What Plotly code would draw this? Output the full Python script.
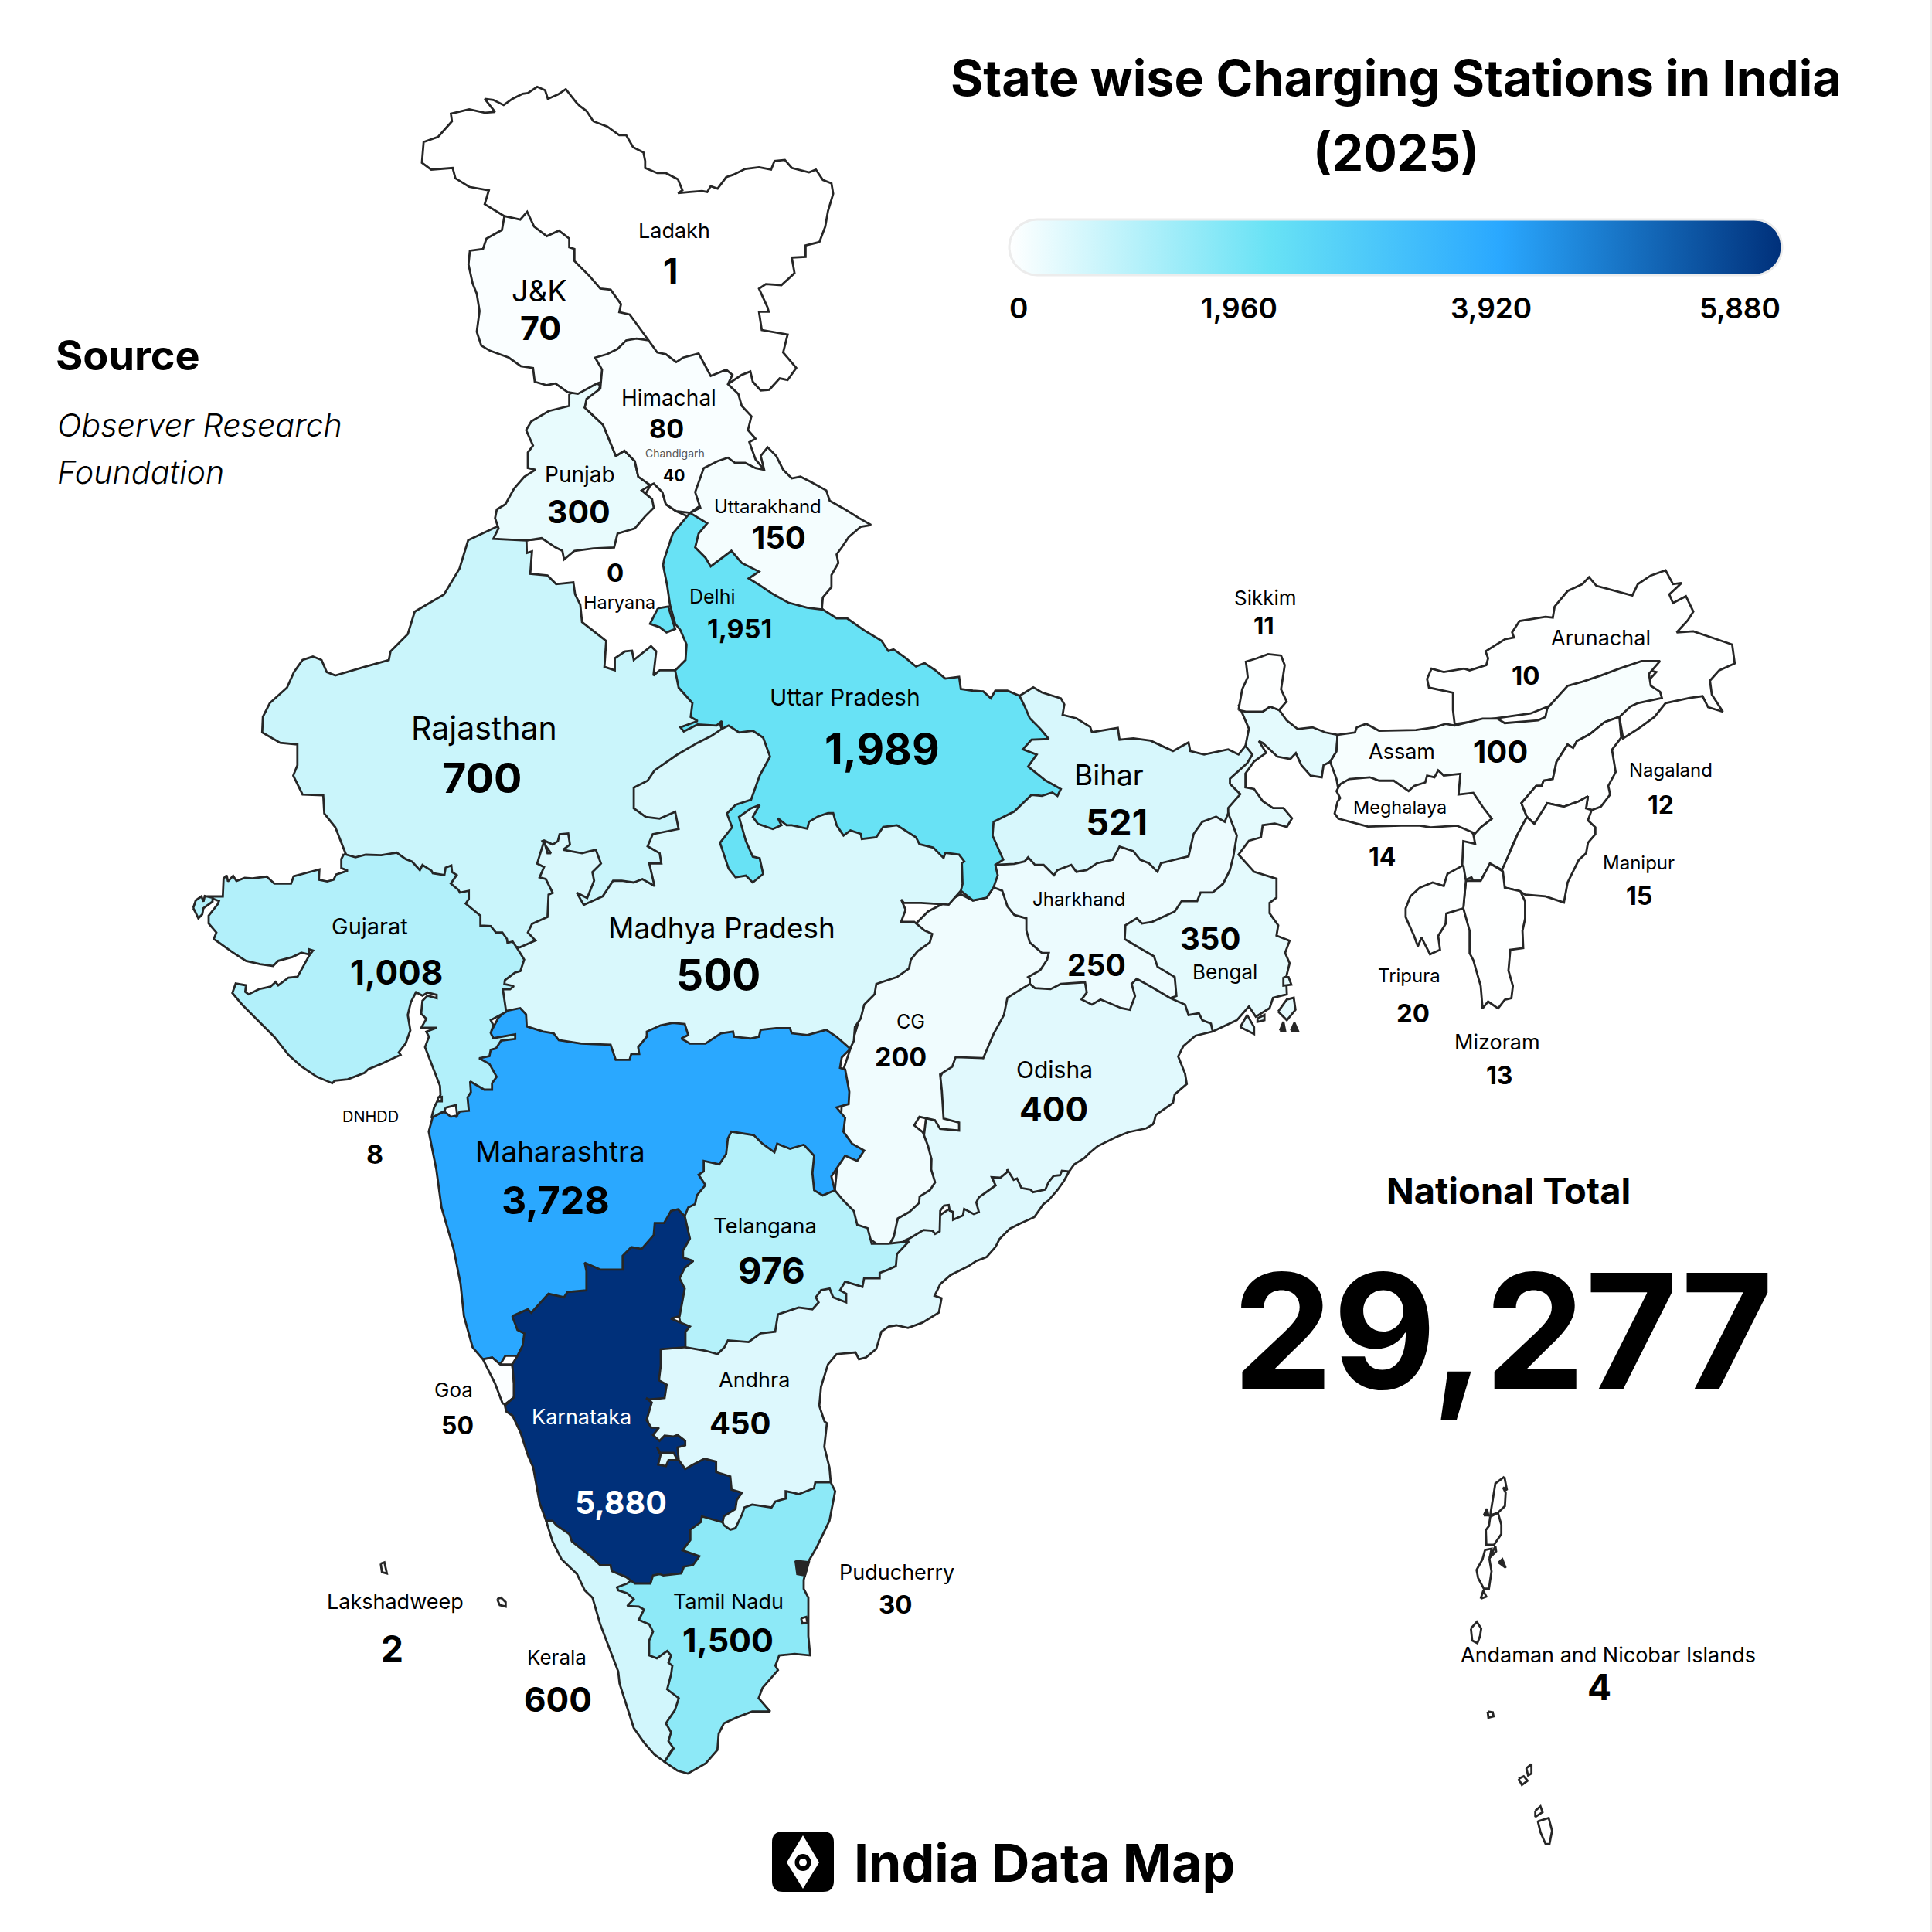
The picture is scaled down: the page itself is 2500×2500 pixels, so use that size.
import numpy as np
import plotly.graph_objects as go
from plotly.colors import sample_colorscale

# charging stations per state, as printed on the map
state_names = ["Ladakh", "J&K", "Himachal", "Chandigarh", "Punjab", "Uttarakhand", "Haryana", "Delhi",
               "Uttar Pradesh", "Rajasthan", "Bihar", "Jharkhand", "Bengal", "Madhya Pradesh", "Gujarat",
               "CG", "Odisha", "Maharashtra", "Telangana", "Andhra", "Goa", "Karnataka", "Tamil Nadu",
               "Kerala", "Puducherry", "Lakshadweep", "DNHDD", "Sikkim", "Arunachal", "Assam", "Meghalaya",
               "Nagaland", "Manipur", "Tripura", "Mizoram", "Andaman and Nicobar Islands"]
state_values = [1, 70, 80, 40, 300, 150, 0, 1951, 1989, 700, 521, 250, 350, 500, 1008, 200, 400, 3728, 976,
                450, 50, 5880, 1500, 600, 30, 2, 8, 11, 10, 100, 14, 12, 15, 20, 13, 4]

# label centres, in the 1568 px preview grid
name_x = [547, 438, 543, 548, 471, 623, 503, 578, 686, 393, 900, 876, 994, 586, 300, 739, 856, 455, 621, 612,
          368, 472, 591, 452, 728, 321, 301, 1027, 1299, 1138, 1136, 1356, 1330, 1144, 1215, 1305]
name_y = [187, 236, 323, 368, 385, 411, 489, 484, 566, 591, 629, 730, 789, 753, 752, 829, 868, 934, 995, 1120,
          1128, 1150, 1300, 1345, 1276, 1300, 906, 485, 518, 610, 655, 625, 700, 792, 846, 1343]
value_x = [544, 439, 541, 547, 470, 632, 499, 600, 716, 391, 906, 890, 982, 583, 322, 731, 855, 451, 626, 601,
           371, 504, 591, 453, 727, 318, 304, 1026, 1238, 1218, 1122, 1348, 1330, 1147, 1217, 1298]
value_y = [220, 266, 348, 386, 415, 436, 465, 510, 608, 631, 667, 783, 762, 791, 789, 858, 900, 974, 1031, 1155,
           1157, 1219, 1331, 1379, 1302, 1338, 937, 508, 548, 610, 695, 653, 727, 822, 873, 1369]
name_size = [27, 38, 28, 14, 28, 24, 23.5, 25, 30, 41, 37, 24, 26, 37, 29, 25, 30, 37, 27.5, 27,
             26, 27, 27, 26, 27, 27, 20, 26, 27, 27, 23.5, 24, 24, 24, 27, 27]
value_size = [45, 43, 34, 21, 41, 40, 33, 34, 55, 54, 47, 39, 40, 55, 44, 34, 44, 50, 47, 40,
              32, 41, 43, 44, 33, 46, 34, 31, 33, 40, 32, 32, 32, 33, 32, 46]

scale_ticks = [0, 1960, 3920, 5880]
scale_tick_x = [1304, 1603, 1929, 2306]
national_total = 29277

colorscale = [[0, "#ffffff"], [0.338, "#68e2f5"], [0.634, "#2aa8ff"], [1, "#00307a"]]

# outlines were traced on enlarged crops: name -> left, top, x zoom, y zoom
crops = {
    "A": (500, 90, 2.24, 2.24),
    "B": (300, 700, 2.24, 2.24),
    "C": (1000, 800, 2.24, 2.24),
    "D": (1550, 700, 2.09, 2.24),
    "E": (520, 1250, 2.24, 2.24),
    "F": (620, 1700, 3, 2.613),
    "G": (1850, 1880, 3, 2.904),
    "H": (230, 1100, 3, 3),
    "I": (1150, 1450, 3, 3),
    "M": (0, 0, 0.6272, 0.6272),
}

# states overlap: a state painted later hides the rough edge of the one below
ANDHRA = [
    ("I", "700,198 680,235 655,270 620,310 600,325 565,375 510,400 470,420 430,460 415,490 380,530 340,545 310,565 240,600 200,635 178,680 205,690 195,745 130,785 75,805 30,795 0,800"),
    ("E", "1390,1060 1375,1110 1345,1135 1325,1140 1315,1120 1260,1125 1235,1155 1215,1220 1210,1275 1225,1320"),
    ("F", "1350,370 1340,450 1360,520 1365,570 1300,650 1040,670 985,740 940,720 930,680 700,560 640,300 690,150 705,120"),
    ("E", "900,1000 1300,850 1432,830"),
    ("I", "50,478 150,400 300,300 450,170 600,200 695,190"),
]
KERALA = [("F", "260,700 285,770 320,830 380,880 410,935 440,960 470,1050 540,1210 545,1250 600,1400 640,1450 680,1490 720,1515 800,1400 800,1200 700,1000 650,900 500,800 280,690")]
TAMIL_NADU = [("F", "575,912 620,880 780,800 800,720 870,650 945,705 950,715 975,730 995,725 1020,680 1030,655 1060,645 1135,655 1150,635 1190,625 1190,600 1220,605 1240,610 1300,590 1305,570 1365,570 1382,600 1360,700 1310,790 1280,835 1260,900 1260,930 1278,960 1278,1090 1285,1155 1225,1150 1165,1155 1150,1190 1160,1205 1100,1265 1085,1300 1130,1345 1060,1345 1000,1365 950,1385 930,1420 925,1475 880,1520 810,1555 770,1545 720,1515 755,1470 735,1445 745,1415 725,1385 760,1340 775,1300 730,1270 745,1220 750,1190 735,1180 745,1155 730,1140 690,1165 660,1155 660,1105 675,1075 660,1050 620,1035 640,1000 620,990 575,988 600,965 575,945 540,935 535,925")]
JHARKHAND = [("C", "645,715 1000,650 1250,570 1320,565 1360,640 1345,700 1340,730 1250,830 1100,930 1140,1000 1190,1060 1185,1130 1000,1160 900,1130 800,1100 745,1070 700,1000 650,850 640,790")]
BENGAL = [
    ("C", "1275,1198 1240,1180 1180,1130 1155,1100 1170,1095 1165,1040 1115,1010 1105,980 1070,960 1020,930 1022,890 1055,870 1070,885 1100,880 1165,850 1185,820 1230,820 1240,795 1275,795 1305,770 1325,730 1335,690 1345,630 1325,580 1320,565 1300,520 1300,470 1350,400 1370,370 1380,320 1350,250"),
    ("D", "130,495 175,495 195,480 220,490 240,520 270,545 310,540 345,555 378,562 375,610 358,640 340,650 335,685 305,680 280,650 265,615 250,632 215,625 175,585 165,580"),
    ("C", "1430,390 1395,415 1370,450 1370,490 1395,495 1420,530 1450,550 1480,550 1505,580 1490,605 1455,595 1420,600 1415,635 1380,645 1350,685 1395,735 1460,755 1460,810 1440,825 1440,855 1465,890 1460,920 1498,935 1485,970 1498,1000 1488,1040 1490,1090 1450,1100 1440,1130 1400,1155 1380,1125 1345,1165"),
]
ODISHA = [
    ("C", "745,1060 760,1072 805,1075 835,1060 905,1055 910,1085 895,1105 925,1120 950,1105 1010,1130 1035,1135 1050,1095 1040,1060 1055,1045 1100,1070 1150,1100 1195,1120 1205,1150 1235,1145 1245,1165 1270,1175 1275,1198 1225,1210 1190,1240 1175,1270 1195,1320 1200,1350 1165,1380 1160,1405 1110,1440"),
    ("I", "1030,5 1025,15 1000,30 930,45 880,65 810,100 780,125 760,145 720,170 700,198 672,195 665,212 640,215 620,240 608,268 560,278 550,268 515,262 498,225 485,230 460,190 460,200 433,222 400,220 415,252 350,298 340,318 350,355 330,363 293,343 288,368 250,385 250,355 237,350 233,328 215,330 200,350 198,430 180,440 170,428 135,425 85,455 60,467 50,480 5,478 60,300 120,200"),
    ("C", "450,1400 600,1100"),
]
BIHAR = [("C", "715,225 755,200 780,215 835,232 845,250 840,280 880,290 920,315 925,330 955,325 1000,318 1005,352 1045,348 1095,355 1160,385 1205,360 1210,385 1250,395 1300,385 1320,380 1350,395 1370,370 1390,395 1375,420 1325,465 1325,480 1355,510 1320,550 1320,565 1310,590 1285,575 1245,590 1220,625 1205,690 1165,700 1125,710 1115,735 1090,710 1065,700 1045,675 1005,662 985,700 940,710 910,730 880,735 865,715 825,730 815,745 785,715 760,715 740,693 730,705 700,712 645,715 620,600 700,400 700,250")]
CG = [
    ("C", "640,780 665,790 680,835 700,860 735,870 735,905 745,940 780,970 800,970 795,990 775,1020 740,1040 745,1045 745,1060 720,1075 680,1100 670,1150 640,1205 625,1240 610,1275 530,1272 520,1300 485,1322 490,1370 495,1450 540,1462 540,1485 485,1480 470,1455 425,1445 410,1470 435,1490 450,1530 460,1568"),
    ("I", "165,190 180,240 160,270 120,295 118,320 80,355 35,380 20,450 5,478"),
    ("E", "1410,830 1300,750 1260,680 1255,650 1270,500 1280,300 1300,240"),
    ("C", "300,1000 450,850 545,800 580,818 620,810"),
]
MP = [
    ("C", "545,790 510,830 430,825 380,825 372,815 385,845 372,880 410,880 440,905 462,915 455,940 420,965 400,990 395,1015 360,1040 330,1050 300,1060 295,1090 265,1120 255,1160 238,1185 235,1225 225,1245"),
    ("E", "1200,280 800,300 400,250 300,200 302,132"),
    ("B", "770,1340 780,1250 800,1180 850,1100 850,900 950,820 1050,870 1100,900 1180,850 1150,750 1150,700 1250,620 1350,570 1415,535 1480,500"),
    ("C", "300,400 550,600 600,780"),
]
RAJASTHAN = [
    ("A", "320,1325"),
    ("B", "685,-2 660,80 615,155 530,205 510,270 460,320 455,345 385,365 300,390 275,380 260,345 235,335 205,345 180,380 160,425 110,470 90,510 88,555 140,585 190,590 190,650 178,680 205,735 265,737 268,790 300,830 330,905 345,945 500,960 620,1020 680,1090 780,1170 835,1178 880,1158 858,1135 870,1110 915,1090 918,1025 930,1020 910,980 892,975 905,945 885,935 905,870 915,905 925,905 900,870 905,868 930,880 945,870 950,850 975,848 980,880 960,895 1015,905 1055,895 1070,935 1045,960 1050,985 1030,1035 1000,1020 1020,1055 1075,1030 1105,985 1130,985 1165,990 1190,980 1225,1000 1210,935 1245,935 1240,905 1205,885 1220,850 1295,835 1285,785 1240,805 1200,800 1165,775 1165,715 1205,695 1225,665 1290,620 1350,585 1390,565 1420,545 1415,530 1380,480 1350,330 1250,340 1250,250 1100,250 1030,150 950,80 880,50 880,-20"),
]
HARYANA = [
    ("B", "854,-2 855,35 870,30 865,95 915,100 940,125 990,120 995,155 1010,185 1015,235 1085,290 1080,365 1110,375 1110,340 1140,320 1160,318 1165,345 1215,305 1230,320 1222,390 1240,375 1285,375 1350,350 1340,100 1330,0"),
    ("A", "885,1300 840,1280 810,1260 800,1225 775,1200 765,1205 740,1250 500,1355"),
]
PUNJAB = [("A", "530,940 530,975 470,990 420,1020 405,1045 425,1090 410,1110 410,1155 432,1160 400,1180 370,1215 345,1260 320,1275 315,1300 325,1330 310,1360 405,1365 450,1358 490,1385 510,1395 515,1420 545,1395 600,1388 660,1385 670,1345 720,1330 750,1295 775,1270 770,1245 740,1220 765,1205 730,1180 720,1135 690,1105 665,1120 628,1030 575,980 610,945 620,915 610,910")]
LADAKH = [("A", "342,425 285,390 297,350 240,340 200,315 192,285 130,290 103,270 108,210 150,195 190,150 187,128 240,115 285,125 315,123 285,85 310,88 340,103 365,85 395,70 410,68 437,50 460,60 468,85 498,72 520,57 550,95 560,105 580,120 600,150 640,165 675,190 695,190 715,225 745,240 750,265 750,285 785,300 810,300 845,318 858,350 845,358 880,355 915,352 930,355 940,338 960,345 985,312 1005,305 1040,288 1080,283 1115,290 1125,265 1155,262 1175,285 1225,298 1245,290 1265,320 1290,330 1295,360 1280,410 1272,455 1255,500 1215,510 1215,543 1175,545 1183,590 1145,625 1100,622 1080,635 1105,690 1108,702 1080,702 1088,755 1163,768 1150,820 1188,865 1163,900 1140,895 1110,928 1085,930 1062,905 1055,875 1030,885 1000,905 990,912 900,900 600,800 400,600")]
JK = [("A", "342,425 388,435 408,412 428,455 465,483 500,467 530,490 530,515 545,520 545,555 590,600 620,635 650,638 680,680 675,703 705,710 760,785 700,880 640,900 610,910 555,940 525,935 490,910 465,915 430,905 425,865 390,860 355,835 300,815 275,800 262,760 270,700 262,650 250,620 238,565 242,525 280,520 290,490 335,465")]
HIMACHAL = [("A", "760,785 785,820 810,825 840,848 860,835 905,823 940,888 970,875 985,870 1003,885 990,912 1020,940 1030,975 1058,1005 1048,1045 1070,1070 1052,1080 1070,1130 1095,1160 1000,1200 900,1270 880,1285 840,1280 810,1260 800,1225 775,1200 765,1205 730,1180 720,1135 690,1105 665,1120 628,1030 575,980 580,955 620,925 625,870 605,835 640,825 670,810 695,785 725,780")]
UP = [
    ("A", "880,1285 830,1345 805,1420"),
    ("B", "1250,70 1262,130 1270,185 1285,240 1300,258 1318,300 1315,345 1285,375 1295,425 1335,470 1330,510 1350,522 1300,540 1310,552 1350,532 1405,535 1420,522 1420,545 1440,535 1470,555 1510,550 1540,570 1555,610 1560,625 1530,680 1505,750 1460,765 1435,790 1450,830 1415,875 1440,950 1460,975 1490,970 1510,990 1540,965 1530,920 1510,915 1490,870 1470,800 1505,775 1530,765 1510,800 1525,820 1568,835"),
    ("C", "25,600 15,580 40,600 55,600 100,610 105,590 130,575 160,565 175,565 185,600 205,630 225,615 255,625 258,640 300,635 320,605 360,600 415,635 425,655 465,665 495,695 500,680 540,685 555,705 548,710 550,770 545,790 580,818 620,810 640,780 652,745 645,715 668,700 655,670 637,630 640,590 700,560 750,512 780,515 810,505 825,515 835,495 790,470 740,430 765,395 725,380 750,352 800,350 775,320 745,290 730,255 715,225 680,210 645,210 632,232 610,212 580,210 545,205 540,170 500,175 470,150 440,130 415,140 385,115 350,90 335,95 315,65 265,35 215,0 185,0"),
    ("A", "1265,1565 1150,1400 1000,1350 940,1300"),
]
UTTARAKHAND = [("A", "880,1285 910,1270 895,1225 910,1180 920,1155 960,1135 990,1125 1010,1140 1040,1140 1070,1155 1095,1160 1085,1120 1105,1095 1130,1120 1150,1160 1175,1185 1200,1180 1230,1195 1275,1220 1285,1250 1330,1275 1370,1300 1405,1320 1375,1325 1340,1355 1320,1385 1305,1405 1310,1430 1290,1465 1290,1500 1265,1530 1262,1565 1220,1560 1165,1545 1120,1520 1075,1490 1050,1475 1080,1455 1030,1430 1000,1395 940,1440 925,1415 895,1385 905,1345 930,1315")]
DELHI = [("B", "1235,195 1265,190 1285,255 1260,265 1240,250 1212,240")]
TELANGANA = [("E", "1255,650 1280,680 1310,710 1320,750 1350,760 1362,805 1410,805 1450,800 1470,798 1435,835 1432,870 1410,880 1385,890 1385,905 1340,905 1335,930 1285,915 1270,940 1288,950 1288,975 1250,960 1240,935 1215,940 1200,960 1208,975 1190,995 1150,990 1090,1010 1082,1060 1040,1065 1005,1090 945,1085 935,1105 915,1125 880,1115 822,1105 800,1000 790,720 820,650 900,450 1200,470 1230,600")]
MAHARASHTRA = [("E", "302,130 343,122 360,140 362,175 410,190 440,195 455,215 520,225 605,228 620,272 660,272 665,255 688,255 685,235 710,205 710,190 750,172 785,165 820,168 830,200 810,210 835,225 880,225 925,195 960,190 963,205 1010,210 1035,205 1040,185 1085,180 1125,180 1130,195 1175,200 1230,185 1260,205 1300,240 1275,265 1270,295 1285,300 1297,365 1295,400 1260,410 1285,440 1280,480 1305,515 1340,535 1320,565 1285,550 1245,610 1255,650 1220,665 1195,650 1190,600 1195,550 1165,518 1125,530 1088,515 1080,540 1045,515 1020,490 955,480 945,500 940,545 920,575 875,565 875,595 860,605 880,635 855,665 850,690 830,700 820,725 780,800 640,900 530,950 400,1050 345,1130 335,1130 300,1130 285,1155 262,1135 235,1140 205,1105 180,1015 170,920 150,820 115,700 100,590 85,520 78,480 90,435 130,420 200,300 280,150")]
GUJARAT = [("H", "645,15 690,28 730,18 790,20 850,10 885,35 910,45 940,78 950,58 985,80 990,90 1035,97 1040,68 1062,60 1065,85 1083,97 1060,130 1090,155 1095,165 1130,158 1130,190 1118,208 1175,255 1175,293 1215,295 1235,320 1260,320 1278,345 1280,360 1300,355 1320,385 1345,425 1330,470 1310,475 1270,505 1268,520 1305,528 1290,540 1262,540 1275,628 1215,660 1225,680 1215,710 1225,730 1310,715 1310,733 1255,740 1235,770 1215,775 1210,800 1170,808 1210,830 1238,880 1220,905 1220,930 1190,930 1135,898 1138,940 1125,960 1130,1012 1095,1015 1080,1035 1030,1015 985,1040 995,1000 1020,950 1018,915 985,830 960,765 975,725 965,705 1005,690 945,690 965,655 945,635 950,585 970,565 1005,575 1005,562 970,553 950,565 925,552 905,590 893,640 903,700 885,750 858,785 865,795 790,830 740,850 725,865 660,890 610,895 600,905 540,880 480,840 430,795 375,725 300,650 250,600 212,555 225,518 265,525 262,550 275,560 315,540 360,530 380,512 390,525 430,495 465,492 510,410 525,390 510,385 510,405 480,398 445,415 390,430 370,450 320,443 265,430 210,395 140,345 150,320 120,285 120,255 155,210 160,198 115,180 175,180 178,110 190,98 195,122 215,100 228,120 260,108 290,110 345,103 375,130 440,130 450,102 550,75 548,115 580,122 605,115 615,95 660,80 635,70 635,35")]
GUJARAT_ISLES = [("H", "60,225 70,195 92,180 100,200 105,178 135,185 135,200 100,225 95,250 80,265 68,240")]
DNHDD_A = [("H", "1040,1000 1080,990 1085,1030 1060,1035 1035,1015")]
DNHDD_B = [("H", "1010,960 1025,958 1025,975 1010,975")]
GOA = [("E", "235,1140 262,1135 285,1155 320,1155 325,1210 325,1250 300,1270 292,1268 270,1210 240,1150")]
KARNATAKA = [
    ("E", "320,1015 365,995 375,1005 425,950 470,960 480,945 535,940 535,885 530,860 575,880 640,880 640,840 665,815 695,820 730,780 733,745 760,745 780,710 800,705 820,725 835,790 815,825 815,845 845,855 820,875 805,905 820,935 805,1015 780,1022 835,1045 822,1060 822,1105"),
    ("F", "705,120 705,175 698,225 728,240 720,285 660,290 648,285 670,300 650,360 668,385 698,385 675,410 700,430 720,412 755,415 770,410 800,430 800,445 770,452 775,495 800,525 830,510 875,490 920,500 920,535 975,550 980,595 1020,605 1000,630 995,660 950,685 945,705 865,685 860,705 820,730 820,765 790,800 855,820 830,850 795,855 785,878 715,885 700,880 675,885 665,912 605,912 570,890 515,870 510,850 470,850 440,825 360,770 350,745 300,715 285,700 260,700 235,640 210,520 190,480 160,400 130,345 105,330 100,310"),
    ("E", "325,1250 325,1210 320,1155 335,1130 350,1100 355,1065 335,1055"),
]
BENGALURU_POCKET = [("F", "690,450 705,475 695,510 725,515 735,495 770,495 755,470 700,470")]
SIKKIM = [("D", "110,490 120,430 135,395 130,350 160,340 190,328 225,332 235,360 225,430 240,465 220,490 195,480 175,495 130,495")]
ARUNACHAL = [("D", "695,535 690,490 690,440 625,425 620,400 632,370 665,380 720,370 735,375 780,360 785,340 778,320 830,285 855,280 850,265 870,232 940,220 960,222 965,190 1000,145 1040,125 1058,105 1078,130 1140,148 1175,158 1190,125 1225,100 1265,85 1285,125 1308,122 1275,155 1285,180 1320,160 1340,205 1325,230 1295,265 1340,262 1390,280 1445,300 1452,355 1410,375 1385,405 1390,445 1420,495 1380,482 1365,450 1330,455 1265,470 1235,510 1190,545 1150,572 1140,510 1180,450 1240,380 1200,370 900,500 700,530")]
ASSAM = [("D", "378,562 425,555 430,540 455,530 490,550 545,548 590,548 640,540 670,530 695,535 770,515 810,515 830,528 920,520 940,510 945,485 1000,420 1040,408 1090,390 1140,370 1200,348 1250,348 1220,385 1225,420 1250,437 1255,455 1190,470 1170,480 1140,510 1100,525 1060,560 1025,580 1015,600 1000,590 970,640 960,690 935,695 930,710 915,710 875,760 890,800 865,850 850,885 825,955 790,935 785,955 775,965 765,985 745,985 740,975 718,985 715,940 718,870 750,878 745,850 700,780 450,760 380,720 375,690 358,640 375,610")]
MEGHALAYA = [("D", "385,705 410,690 465,685 490,695 530,695 570,725 585,710 615,700 620,680 640,685 650,665 665,680 710,675 705,735 745,730 770,770 795,805 765,830 750,848 700,825 630,830 600,825 550,825 460,828 380,805 370,790 378,755 385,745 375,725")]
NAGALAND = [("D", "1140,510 1145,570 1120,605 1130,670 1110,710 1115,735 1090,770 1065,780 1050,775 1055,740 1030,755 990,770 945,760 930,790 910,820 890,800 875,760 915,710 930,710 935,695 960,690 970,640 1000,590 1015,600 1025,580 1060,560 1100,525")]
MANIPUR = [("D", "890,800 910,820 945,760 990,770 1030,755 1055,740 1050,775 1065,780 1055,810 1075,830 1075,850 1055,875 1050,905 1030,925 1000,990 990,1048 940,1030 885,1025 870,1015 830,1005 822,955 850,885 865,850")]
MIZORAM = [("D", "725,985 745,985 765,985 775,965 790,935 825,958 830,1005 872,1015 885,1045 885,1095 878,1130 880,1180 845,1185 840,1245 852,1290 848,1325 830,1330 812,1355 785,1335 770,1355 765,1290 745,1215 735,1195 735,1130 718,1065 720,1040")]
TRIPURA = [("D", "718,940 725,985 720,1040 718,1065 672,1080 670,1110 650,1145 655,1185 628,1198 605,1150 595,1175 585,1145 562,1090 562,1065 575,1030 600,1005 635,990 665,1000 675,965 708,945")]
ANDAMAN = [
    "290,90 255,115 245,175 235,235 265,225 292,200 295,150 285,130 300,140",
    "235,240 265,225 278,270 278,305 250,345 220,345 218,290 230,275",
    "215,365 240,360 232,400 240,445 230,510 210,510 188,470 182,440 205,400",
    "238,385 255,350 258,370 232,395",
    "198,548 208,518 220,540",
    "160,660 183,635 200,660 195,690 185,715 165,705",
    "225,972 245,975 248,990 228,995",
    "345,1225 365,1215 380,1232 358,1248",
    "375,1185 395,1170 395,1205 382,1212",
    "410,1345 430,1328 438,1350 410,1368",
    "420,1385 462,1372 475,1420 465,1470 450,1470 430,1425",
]
ANDAMAN_DARK = ["210,235 222,210 228,235", "268,412 282,400 295,432"]
LAKSHADWEEP = [[("F", "70,965 85,960 103,975 103,990 80,985")], [("M", "309,1269 312,1268 314,1277 310,1276")]]
PUDUCHERRY_MAIN = [("F", "1228,835 1280,840 1265,885 1235,880")]
PUDUCHERRY_SMALL = [("F", "1250,1030 1270,1025 1275,1045 1255,1047")]
DELTA_ISLES = ["1480,1040 1495,1040 1503,1062 1480,1065", "1355,1185 1375,1150 1395,1185 1395,1205 1375,1195",
               "1465,1140 1490,1105 1510,1100 1515,1135 1490,1165", "1405,1160 1425,1150 1425,1165 1405,1170"]
DELTA_DARK = ["1470,1195 1480,1170 1485,1195", "1502,1195 1512,1172 1522,1195"]


def trace_xy(pieces):
    xs, ys = [], []
    for crop, text in pieces:
        left, top, kx, ky = crops[crop]
        for pair in text.split():
            zx, zy = pair.split(",")
            xs.append(left + float(zx) / kx)
            ys.append(top + float(zy) / ky)
    xs.append(xs[0])
    ys.append(ys[0])
    return xs, ys


value_of = dict(zip(state_names, state_values))


def state_color(name):
    return sample_colorscale(colorscale, value_of[name] / scale_ticks[-1])[0]


draw_order = [
    ("Andhra", ANDHRA), ("Kerala", KERALA), ("Tamil Nadu", TAMIL_NADU), ("Jharkhand", JHARKHAND), ("Bengal", BENGAL),
    ("Odisha", ODISHA), ("Bihar", BIHAR), ("CG", CG), ("Madhya Pradesh", MP), ("Rajasthan", RAJASTHAN),
    ("Haryana", HARYANA), ("Punjab", PUNJAB), ("Ladakh", LADAKH), ("J&K", JK), ("Himachal", HIMACHAL),
    ("Uttar Pradesh", UP), ("Uttarakhand", UTTARAKHAND), ("Uttar Pradesh", DELHI), ("Telangana", TELANGANA),
    ("Maharashtra", MAHARASHTRA), ("Gujarat", GUJARAT), ("Gujarat", GUJARAT_ISLES), ("DNHDD", DNHDD_A),
    ("DNHDD", DNHDD_B), ("Goa", GOA), ("Karnataka", KARNATAKA), ("Andhra", BENGALURU_POCKET), ("Arunachal", ARUNACHAL),
    ("Assam", ASSAM), ("Meghalaya", MEGHALAYA), ("Nagaland", NAGALAND), ("Manipur", MANIPUR), ("Mizoram", MIZORAM),
    ("Tripura", TRIPURA), ("Sikkim", SIKKIM),
]
for isle in ANDAMAN:
    draw_order.append(("Andaman and Nicobar Islands", [("G", isle)]))
for isle in LAKSHADWEEP:
    draw_order.append(("Lakshadweep", isle))
for isle in DELTA_ISLES:
    draw_order.append(("Bengal", [("C", isle)]))

LINE = "#262626"
fig = go.Figure()


def add_poly(pieces, fill, width=2.8):
    x, y = trace_xy(pieces)
    fig.add_trace(go.Scatter(x=x, y=y, mode="lines", fill="toself", fillcolor=fill,
                             line=dict(color=LINE, width=width), hoverinfo="skip", showlegend=False))


for name, pieces in draw_order:
    add_poly(pieces, state_color(name))
add_poly(PUDUCHERRY_MAIN, LINE)
add_poly(PUDUCHERRY_SMALL, "#ffffff")
for isle in ANDAMAN_DARK:
    add_poly([("G", isle)], LINE)
for isle in DELTA_DARK:
    add_poly([("C", isle)], LINE)

# colour bar with round ends
bar_left, bar_right, bar_mid, bar_r = 1306, 2306, 320, 36
t = np.linspace(-np.pi / 2, np.pi / 2, 30)
bar_x = list(bar_right - bar_r + bar_r * np.cos(t)) + list(bar_left + bar_r - bar_r * np.cos(t[::-1]))
bar_y = list(bar_mid + bar_r * np.sin(t)) + list(bar_mid + bar_r * np.sin(t[::-1]))
fig.add_trace(go.Scatter(x=bar_x + bar_x[:1], y=bar_y + bar_y[:1], mode="lines", fill="toself",
                         fillgradient=dict(type="horizontal", colorscale=colorscale),
                         line=dict(color="#ececec", width=3), hoverinfo="skip", showlegend=False))

S = 2500 / 1568
FONT = "Inter"


def text(x, y, s, size, weight=400, color="#000000", anchor="center", style="normal"):
    fig.add_annotation(x=x, y=y, text=s, showarrow=False, xanchor=anchor, yanchor="middle",
                       font=dict(family=FONT, size=size, color=color, weight=weight, style=style))


for i, name in enumerate(state_names):
    color = "#ffffff" if name == "Karnataka" else "#000000"
    if name == "Chandigarh":
        text(name_x[i] * S, name_y[i] * S, name, name_size[i], color="#555555")
    else:
        text(name_x[i] * S, name_y[i] * S, name, name_size[i], color=color)
    text(value_x[i] * S, value_y[i] * S, f"{state_values[i]:,}", value_size[i], weight=700, color=color)

for x, tick in zip(scale_tick_x, scale_ticks):
    anchor = "left" if tick == scale_ticks[0] else "right" if tick == scale_ticks[-1] else "center"
    text(x, 398, f"{tick:,}", 37, weight=600, anchor=anchor)

text(1133 * S, 63 * S, "State wise Charging Stations in India", 64.7, weight=700)
text(1133 * S, 124 * S, "(2025)", 64.7, weight=700)
text(44 * S, 288 * S, "Source", 54, weight=700, anchor="left")
text(45 * S, 345 * S, "Observer Research", 41.3, weight=300, anchor="left", style="italic")
text(45 * S, 383 * S, "Foundation", 41.3, weight=300, anchor="left", style="italic")
text(1224 * S, 966 * S, "National Total", 47, weight=700)
text(1220 * S, 1080 * S, f"{national_total:,}", 206, weight=700)
text(1103, 2410, "India Data Map", 68, weight=700, anchor="left")

shapes = [
    dict(type="rect", x0=2498, x1=2500, y0=0, y1=2500, fillcolor="#efefef", line_width=0),
    # logo
    dict(type="path", path="M 1013,2370 L 1065,2370 Q 1079,2370 1079,2384 L 1079,2434 Q 1079,2448 1065,2448 "
                           "L 1013,2448 Q 999,2448 999,2434 L 999,2384 Q 999,2370 1013,2370 Z",
         fillcolor="#000000", line_width=0),
    dict(type="path", path="M 1039,2375 L 1060,2410 L 1039,2444 L 1018,2410 Z", fillcolor="#ffffff", line_width=0),
    dict(type="circle", x0=1028.5, x1=1049.5, y0=2399, y1=2421, fillcolor="#000000", line_width=0),
    dict(type="circle", x0=1034, x1=1044, y0=2405, y1=2415, fillcolor="#ffffff", line_width=0),
]

fig.update_layout(width=2500, height=2500, margin=dict(l=0, r=0, t=0, b=0), paper_bgcolor="#ffffff",
                  plot_bgcolor="#ffffff", showlegend=False, shapes=shapes,
                  xaxis=dict(range=[0, 2500], visible=False, fixedrange=True),
                  yaxis=dict(range=[2500, 0], visible=False, fixedrange=True))

fig.write_html("out.html", config={"displayModeBar": False}, post_script="document.body.style.margin='0';")
